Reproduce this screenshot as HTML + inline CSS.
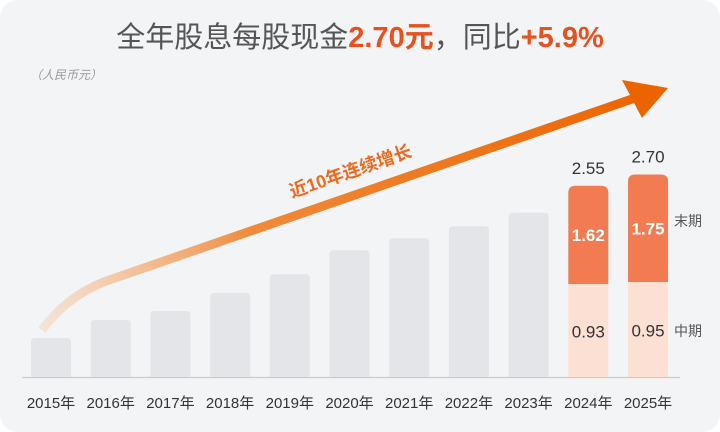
<!DOCTYPE html>
<html><head><meta charset="utf-8"><style>
html,body{margin:0;padding:0;background:#fff}
#card{position:relative;width:720px;height:432px;background:#f3f4f6;border-radius:18px;overflow:hidden;font-family:"Liberation Sans","Noto Sans CJK SC",sans-serif}
#title{position:absolute;left:0;top:14px;width:720px;text-align:center;font-size:29px;color:#555;letter-spacing:0px}
#title b{color:#e8501e;font-weight:bold}
#unit{position:absolute;left:30px;top:66px;font-size:12px;color:#999;font-style:italic}
</style></head><body>
<div id="card">
<div id="title">全年股息每股现金<b>2.70元</b>，同比<b>+5.9%</b></div>
<div id="unit">（人民币元）</div>
<svg id="chart" width="720" height="432" style="position:absolute;left:0;top:0">
<defs>
<linearGradient id="ag" x1="40" y1="330" x2="660" y2="90" gradientUnits="userSpaceOnUse">
<stop offset="0" stop-color="#f6d9c6" stop-opacity="0.6"/><stop offset="0.35" stop-color="#f08a3a"/><stop offset="1" stop-color="#ec6400"/>
</linearGradient>
</defs>
</svg>
</div>
<script>
const categories=["2015年","2016年","2017年","2018年","2019年","2020年","2021年","2022年","2023年","2024年","2025年"];
const totals=[0.52,0.76,0.88,1.12,1.37,1.69,1.85,2.01,2.19,2.55,2.70];
const interim=[null,null,null,null,null,null,null,null,null,0.93,0.95];
const final_=[null,null,null,null,null,null,null,null,null,1.62,1.75];
const totalLabels=["","","","","","","","","","2.55","2.70"];
const NS="http://www.w3.org/2000/svg";
const svg=document.getElementById('chart');
const base=377, x0=51, step=59.7, bw=40;
const xPos=i=>x0+i*step;
const yH=v=>v*75;
const midH=v=>v*100;
function mk(t,a){const e=document.createElementNS(NS,t);for(const k in a)e.setAttribute(k,a[k]);svg.appendChild(e);return e;}
function bar(x,y,w,h,r,topR,fill){ // rounded top
  const d=topR?`M${x},${y+h}V${y+r}Q${x},${y} ${x+r},${y}H${x+w-r}Q${x+w},${y} ${x+w},${y+r}V${y+h}Z`:`M${x},${y}H${x+w}V${y+h}H${x}Z`;
  return mk('path',{d,fill});
}
const axis=mk('line',{x1:22,x2:680,y1:base+0.5,y2:base+0.5,stroke:'#c9c9cf','stroke-width':1.2});


categories.forEach((c,i)=>{
  const cx=xPos(i), h=yH(totals[i]);
  if(interim[i]==null){
    const b=bar(cx-bw/2,base-h,bw,h,4,true,'#e4e5e8');
    
    
  }else{
    const mh=midH(interim[i]);
    const m=bar(cx-bw/2,base-mh,bw,mh,0,false,'#fde0d4');
    
    
    const f=bar(cx-bw/2,base-h,bw,h-mh,7,true,'#f27b52');
    
    
    const t1=mk('text',{x:cx,y:base-mh/2+7,'text-anchor':'middle','font-size':17,fill:'#333'});t1.textContent=interim[i].toFixed(2);
    
    
    const t2=mk('text',{x:cx,y:base-(h+mh)/2+6,'text-anchor':'middle','font-size':17,fill:'#fff','font-weight':'bold'});t2.textContent=final_[i].toFixed(2);
    
    
    const t3=mk('text',{x:cx,y:base-h-12,'text-anchor':'middle','font-size':17,fill:'#333'});t3.textContent=totalLabels[i];
    
    
  }
  const l=mk('text',{x:cx,y:408,'text-anchor':'middle','font-size':15,fill:'#333'});l.textContent=c;
  
  
});
const lg1=mk('text',{x:674,y:226,'font-size':14,fill:'#555'});lg1.textContent='末期';


const lg2=mk('text',{x:674,y:336,'font-size':14,fill:'#555'});lg2.textContent='中期';


const arr=mk('path',{d:'M42,330 Q70,292 115,278 L635,98',fill:'none',stroke:'url(#ag)','stroke-width':9});


const head=mk('polygon',{points:'668,88 622,80 642,118',fill:'#ec6400'});


const at=mk('text',{x:0,y:0,'font-size':18,fill:'#ec6a1e','font-weight':'bold',transform:'translate(292,198) rotate(-19)'});at.textContent='近10年连续增长';


</script>
</body></html>
